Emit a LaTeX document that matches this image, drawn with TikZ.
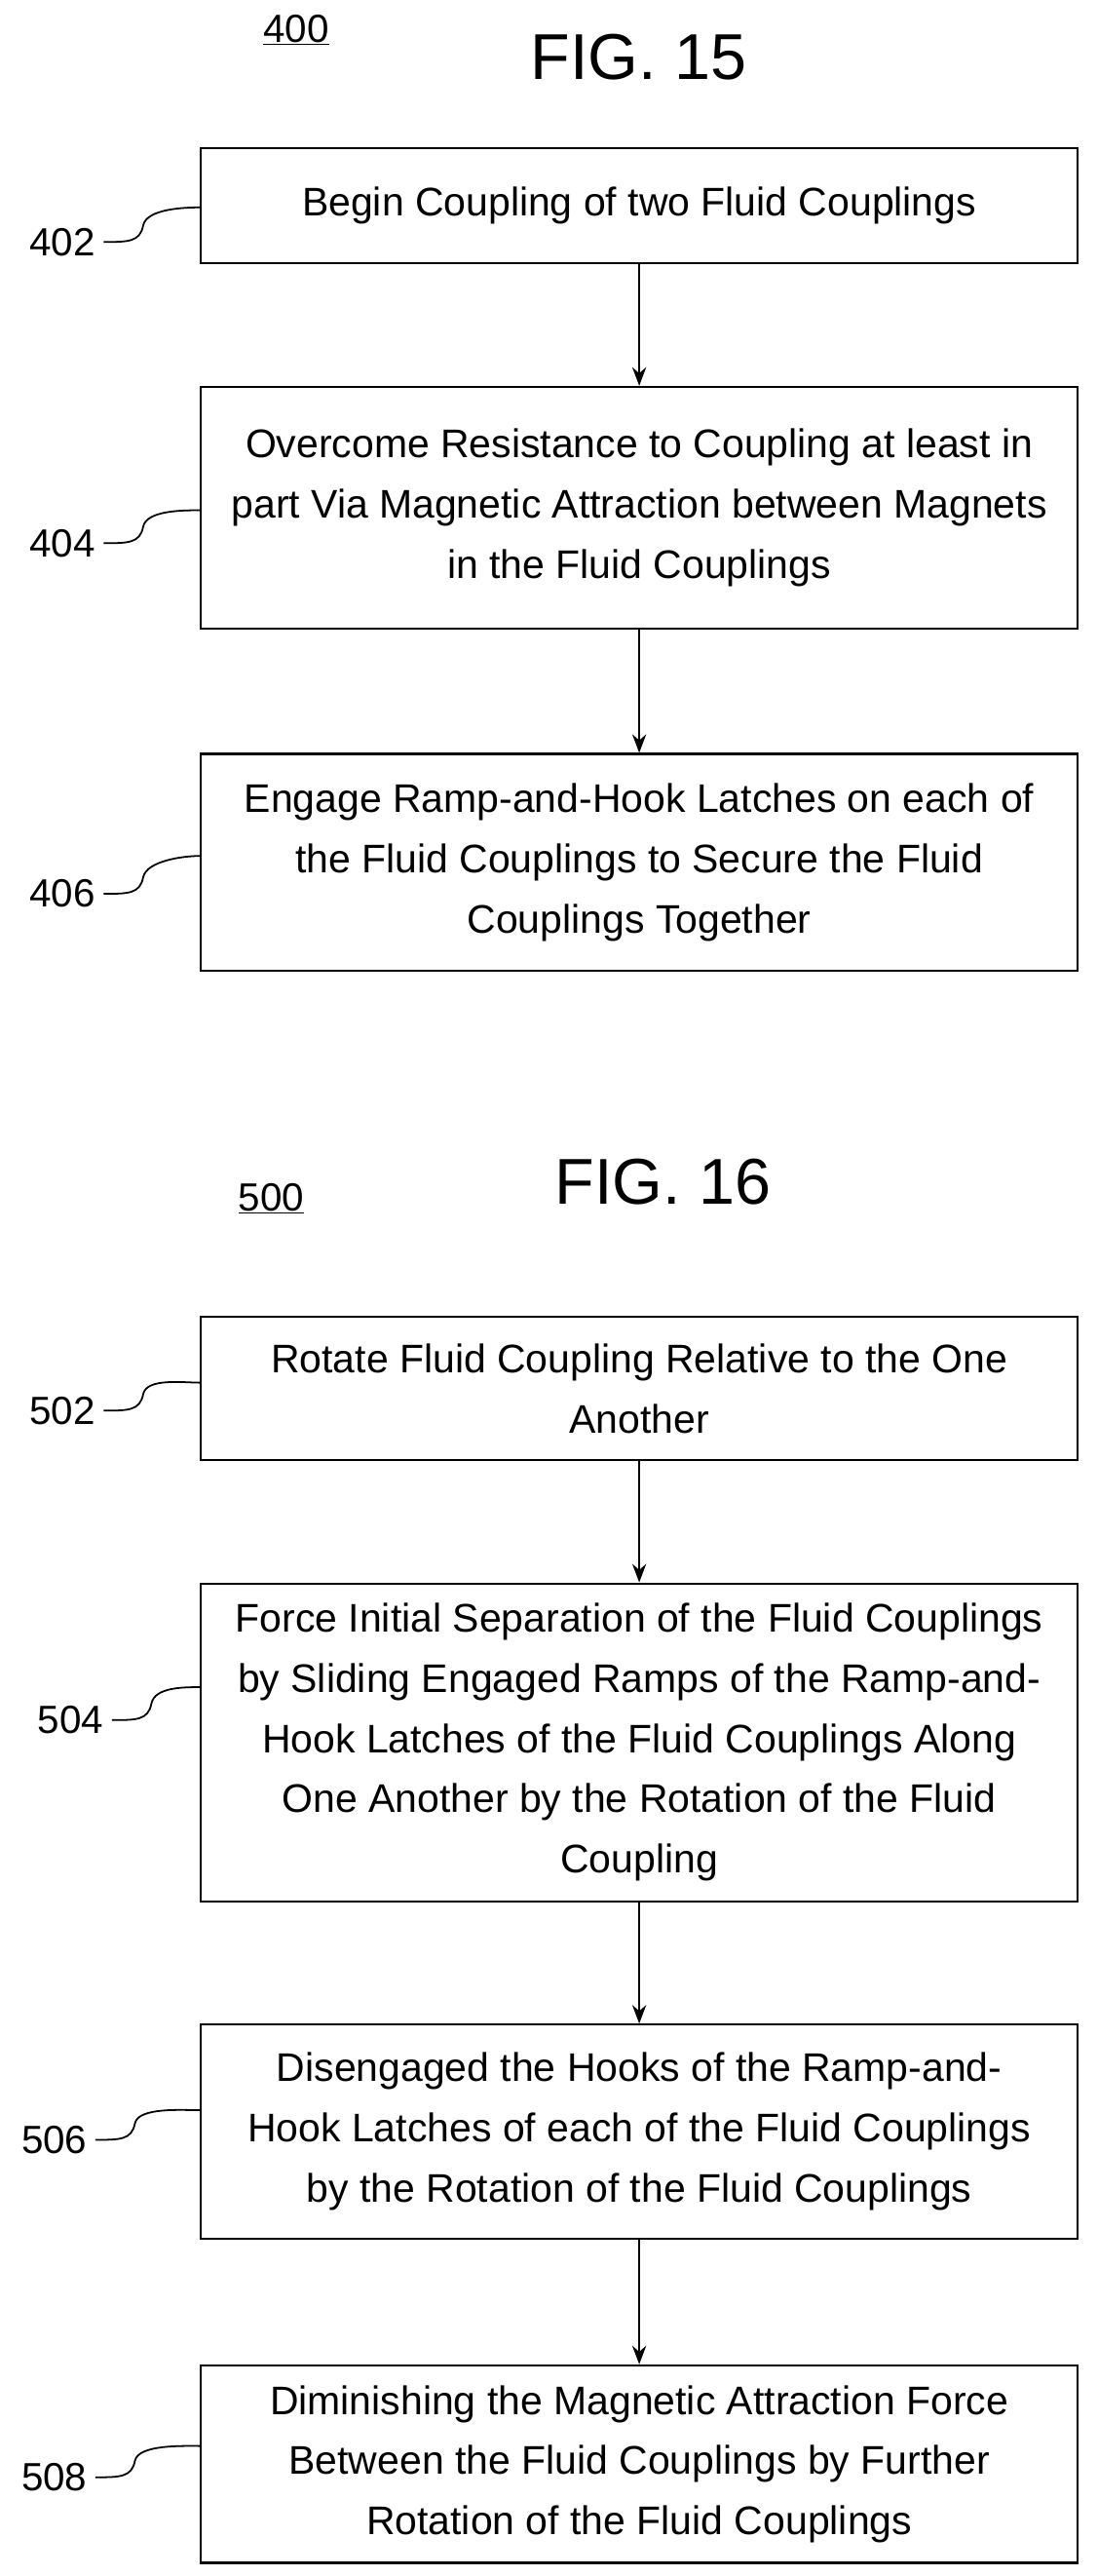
\documentclass[tikz,border=0pt]{standalone}
\usepackage{fontspec}
\setmainfont{Liberation Sans}
\usetikzlibrary{arrows.meta}
\begin{document}
\begin{tikzpicture}[x=0.5mm,y=-0.5mm,line width=1.8pt,
  box/.style={draw,minimum width=266.5mm,align=center,font=\fontsize{34.5}{52}\selectfont,inner sep=0pt},
  lbl/.style={font=\fontsize{34}{40}\selectfont},
  fig/.style={font=\fontsize{56}{60}\selectfont},
  arr/.style={-{Stealth[length=16pt,width=12pt]}},
  sq/.style={line width=1.5pt}]
\useasboundingbox (0,0) rectangle (667,1565);
\node[lbl] (n400) at (180,18) {\underline{400}};
\node[fig] (f15) at (388,35) {FIG. 15};
\node[box,minimum height=35mm] (b402) at (388.5,125) {Begin Coupling of two Fluid Couplings};
\node[box,minimum height=73.5mm] (b404) at (388.5,308.5) {Overcome Resistance to Coupling at least in\\part Via Magnetic Attraction between Magnets\\in the Fluid Couplings};
\node[box,minimum height=66mm] (b406) at (388.5,524) {Engage Ramp-and-Hook Latches on each of\\the Fluid Couplings to Secure the Fluid\\Couplings Together};
\node[lbl] (l402) at (38,147) {402};
\node[lbl] (l404) at (38,330) {404};
\node[lbl] (l406) at (38,543) {406};
\draw[arr] (b402) -- (b404);
\draw[arr] (b404) -- (b406);

\node[lbl] (n500) at (165,728) {\underline{500}};
\node[fig] (f16) at (403,718) {FIG. 16};
\node[box,minimum height=43.5mm] (b502) at (388.5,843.5) {Rotate Fluid Coupling Relative to the One\\Another};
\node[box,minimum height=96.5mm] (b504) at (388.5,1058.5) {Force Initial Separation of the Fluid Couplings\\by Sliding Engaged Ramps of the Ramp-and-\\Hook Latches of the Fluid Couplings Along\\One Another by the Rotation of the Fluid\\Coupling};
\node[box,minimum height=65mm] (b506) at (388.5,1295) {Disengaged the Hooks of the Ramp-and-\\Hook Latches of each of the Fluid Couplings\\by the Rotation of the Fluid Couplings};
\node[box,minimum height=60mm] (b508) at (388.5,1497) {Diminishing the Magnetic Attraction Force\\Between the Fluid Couplings by Further\\Rotation of the Fluid Couplings};
\node[lbl] (l502) at (38,857) {502};
\node[lbl] (l504) at (43,1045) {504};
\node[lbl] (l506) at (33,1300) {506};
\node[lbl] (l508) at (33,1505) {508};
\draw[arr] (b502) -- (b504);
\draw[arr] (b504) -- (b506);
\draw[arr] (b506) -- (b508);

\foreach \l/\b/\yy in {l402/b402/126,l404/b404/310,l406/b406/520,l502/b502/840,l504/b504/1025,l506/b506/1282,l508/b508/1486}{
  \draw[sq] ([xshift=3pt]\l.east) .. controls +(15,0) and +(-2,10) .. ++(24,-10) .. controls +(2,-10) and +(-10,0) .. (\b.west |- 0,\yy);
}
\end{tikzpicture}
\end{document}
